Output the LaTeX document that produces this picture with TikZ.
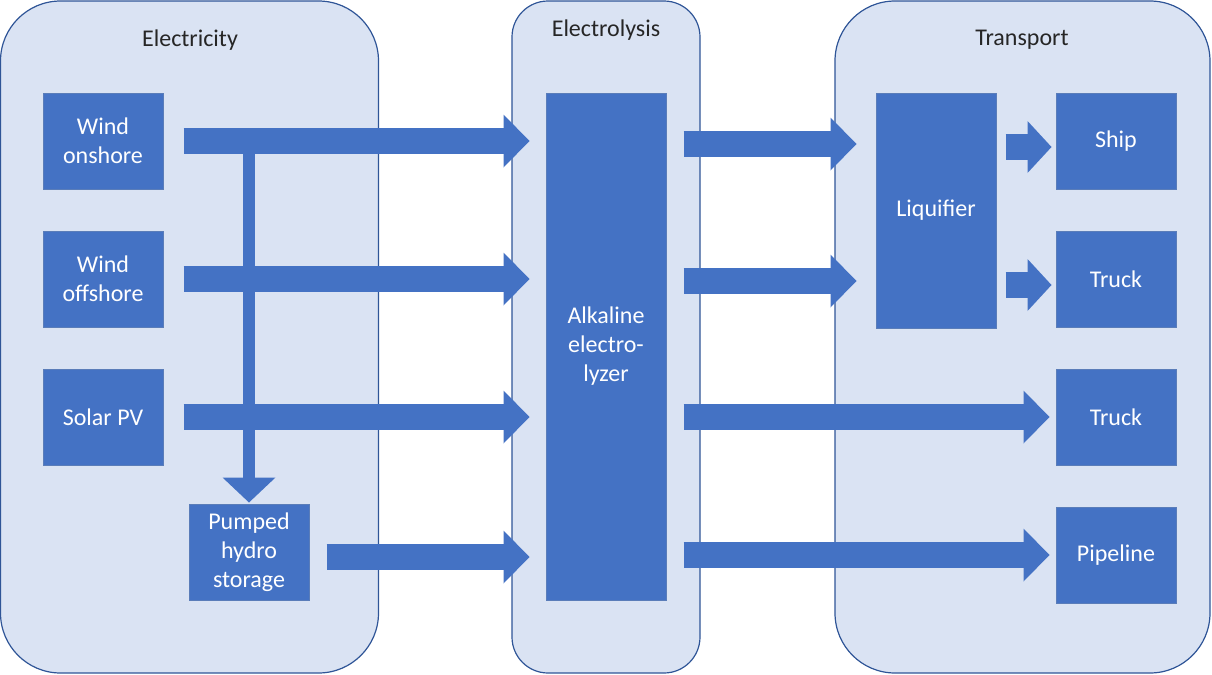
\documentclass[tikz,border=0pt]{standalone}
\usepackage{fontspec}
\setmainfont{Carlito}
\usepackage{tikz}
\usetikzlibrary{positioning, arrows.meta, calc}
\definecolor{panelbg}{RGB}{218,227,243}
\definecolor{panelline}{RGB}{47,85,151}
\definecolor{boxbg}{RGB}{68,114,196}
\definecolor{boxline}{RGB}{90,125,185}

\begin{document}
\begin{tikzpicture}[x=0.5pt, y=-0.5pt,
        node distance=20.5pt and 20.5pt,
        panel/.style={draw=panelline, fill=panelbg, line width=0.6pt, rounded corners=30pt, minimum height=336pt},
        head/.style={font=\fontsize{12}{14.5}\selectfont, text=black!85},
        box/.style={draw=boxline, fill=boxbg, line width=0.5pt, text=white, align=center, font=\fontsize{12}{14.5}\selectfont, minimum width=60pt, minimum height=48pt, inner sep=0pt},
        barr/.style={draw=boxbg, line width=13pt, -{Triangle[length=13pt, width=26.5pt, line width=0pt]}},
        sarr/.style={draw=boxbg, line width=13pt, -{Triangle[length=12pt, width=26pt, line width=0pt]}},
        varr/.style={draw=boxbg, line width=6pt, -{Triangle[length=12.5pt, width=26.5pt, line width=0pt]}}
    ]
    \useasboundingbox (0,0) rectangle (1212,675);

    % background panels
    \node[panel, minimum width=189pt] (pel) at (189.5,337) {};
    \node[panel, minimum width=94pt, rounded corners=18pt] (ply) at (606,337) {};
    \node[panel, minimum width=187.5pt] (ptr) at (1022.5,337) {};
    \node[head] (tel) at (190,40) {Electricity};
    \node[head] (tly) at (606,30) {Electrolysis};
    \node[head] (ttr) at (1022,40) {Transport};

    \node[box] (won) at (103,141) {Wind\\onshore};
    \node[box] (wof) [below=of won] {Wind\\offshore};
    \node[box] (spv) [below=of wof] {Solar PV};
    \node[box] (pump) at (249,552) {Pumped\\hydro\\storage};
    \node[box, minimum height=253.5pt] (ely) at (606,346.5) {Alkaline\\electro-\\lyzer};
    \node[box, minimum height=117.5pt] (liq) at (936,210.5) {Liquifier};
    \node[box] (ship) at (1116,141) {Ship};
    \node[box] (tr1) [below=of ship] {Truck};
    \node[box] (tr2) [below=of tr1] {Truck};
    \node[box] (pipe) [below=of tr2] {Pipeline};

    \draw[varr, shorten >=0.5pt] (won.east -| pump.north) -- (pump.north);
    \draw[barr, shorten <=10pt, shorten >=8pt] (won.east) -- (won.east -| ely.west);
    \draw[barr, shorten <=10pt, shorten >=8pt] (wof.east) -- (wof.east -| ely.west);
    \draw[barr, shorten <=10pt, shorten >=8pt] (spv.east) -- (spv.east -| ely.west);
    \draw[barr, shorten <=8.5pt, shorten >=8pt] ($(pump.east)+(0,5)$) -- ($(pump.east -| ely.west)+(0,5)$);

    \draw[barr, shorten <=8.5pt, shorten >=9.5pt] ($(ely.east |- ship)+(0,3)$) -- ($(liq.west |- ship)+(0,3)$);
    \draw[barr, shorten <=8.5pt, shorten >=9.5pt] ($(ely.east |- tr1)+(0,2)$) -- ($(liq.west |- tr1)+(0,2)$);
    \draw[sarr, shorten <=4.5pt, shorten >=2pt] ($(liq.east |- ship)+(0,6)$) -- ($(ship.west)+(0,6)$);
    \draw[sarr, shorten <=4.5pt, shorten >=2pt] ($(liq.east |- tr1)+(0,6)$) -- ($(tr1.west)+(0,6)$);
    \draw[barr, shorten <=8.5pt, shorten >=3pt] (ely.east |- tr2) -- (tr2.west);
    \draw[barr, shorten <=8.5pt, shorten >=3pt] (ely.east |- pipe) -- (pipe.west);

\end{tikzpicture}
\end{document}
